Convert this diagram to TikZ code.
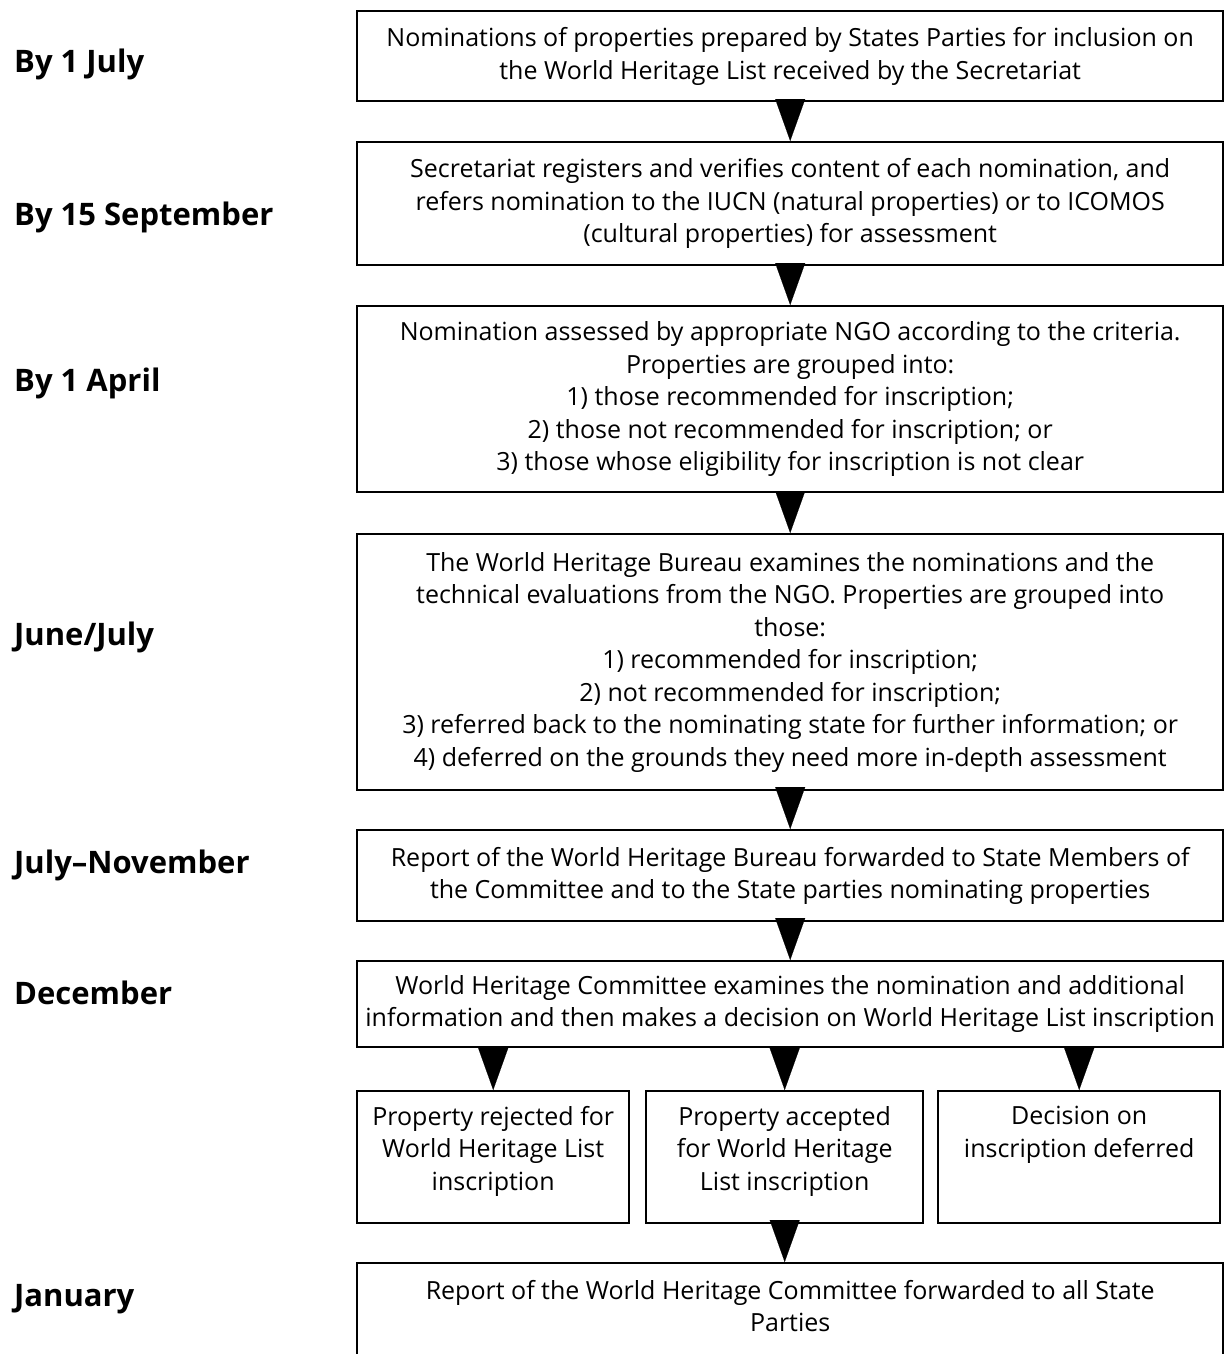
\documentclass[tikz,border=0pt]{standalone}
\usepackage{fontspec}
\setmainfont{Open Sans}
\usetikzlibrary{arrows.meta}
\newcommand\bxt[4]{\parbox[c][#2][#3]{#1}{\centering #4}}
\begin{document}
\begin{tikzpicture}[x=1pt,y=-1pt,
  bx/.style={draw, line width=2.4pt, inner sep=0pt, anchor=north west,
    font=\fontsize{25}{32.5}\selectfont},
  flow/.style={line width=12pt, -{Triangle[width=30pt,length=42pt,line width=0.1pt]}, shorten <=-8pt},
  lbl/.style={anchor=west, inner sep=0pt, font=\fontsize{31}{35}\selectfont\bfseries}]
\useasboundingbox (0,0) rectangle (1231,1354);
\fill[white] (0,0) rectangle (1231,1354);

% left labels
\node[lbl] (l1) at (14,64)   {By 1 July};
\node[lbl] (l2) at (14,217)  {By 15 September};
\node[lbl] (l3) at (14,383)  {By 1 April};
\node[lbl] (l4) at (14,637)  {June/July};
\node[lbl] (l5) at (14,865)  {July--November};
\node[lbl] (l6) at (14,993)  {December};
\node[lbl] (l7) at (14,1299) {January};

% main boxes
\node[bx] (n1) at (356,10) {\bxt{866pt}{90pt}{c}{Nominations of properties prepared by States Parties for inclusion on\\
 the World Heritage List received by the Secretariat}};
\node[bx] (n2) at (356,141) {\bxt{866pt}{123pt}{c}{Secretariat registers and verifies content of each nomination, and\\
 refers nomination to the IUCN (natural properties) or to ICOMOS\\
 (cultural properties) for assessment}};
\node[bx] (n3) at (356,305) {\bxt{866pt}{186pt}{c}{Nomination assessed by appropriate NGO according to the criteria.\\
 Properties are grouped into:\\
 1) those recommended for inscription;\\
 2) those not recommended for inscription; or\\
 3) those whose eligibility for inscription is not clear}};
\node[bx] (n4) at (356,533) {\bxt{866pt}{256pt}{c}{The World Heritage Bureau examines the nominations and the\\
 technical evaluations from the NGO. Properties are grouped into\\
 those:\\
 1) recommended for inscription;\\
 2) not recommended for inscription;\\
 3) referred back to the nominating state for further information; or\\
 4) deferred on the grounds they need more in-depth assessment}};
\node[bx] (n5) at (356,829) {\bxt{866pt}{91pt}{c}{Report of the World Heritage Bureau forwarded to State Members of\\
 the Committee and to the State parties nominating properties}};
\node[bx] (n6) at (356,960) {\bxt{866pt}{86pt}{c}{World Heritage Committee examines the nomination and additional\\
 information and then makes a decision on World Heritage List inscription}};

% outcome boxes
\node[bx] (sa) at (356,1090) {\bxt{272pt}{132pt}{t}{\vspace*{15pt}Property rejected for\\ World Heritage List\\ inscription}};
\node[bx] (sb) at (645,1090) {\bxt{277pt}{132pt}{t}{\vspace*{15pt}Property accepted\\ for World Heritage\\ List inscription}};
\node[bx] (sc) at (937,1090) {\bxt{282pt}{132pt}{t}{\vspace*{15pt}Decision on\\ inscription deferred}};

% last box (runs off the bottom)
\node[bx] (nl) at (356,1262) {\bxt{866pt}{96pt}{t}{\vspace*{17pt}Report of the World Heritage Committee forwarded to all State\\ Parties}};

% connectors
\draw[flow] (n1.south) -- (n2.north);
\draw[flow] (n2.south) -- (n3.north);
\draw[flow] (n3.south) -- (n4.north);
\draw[flow] (n4.south) -- (n5.north);
\draw[flow] (n5.south) -- (n6.north);
\draw[flow] (n6.south -| sa.north) -- (sa.north);
\draw[flow] (n6.south -| sb.north) -- (sb.north);
\draw[flow] (n6.south -| sc.north) -- (sc.north);
\draw[flow] (sb.south) -- (nl.north -| sb.south);
\end{tikzpicture}
\end{document}
